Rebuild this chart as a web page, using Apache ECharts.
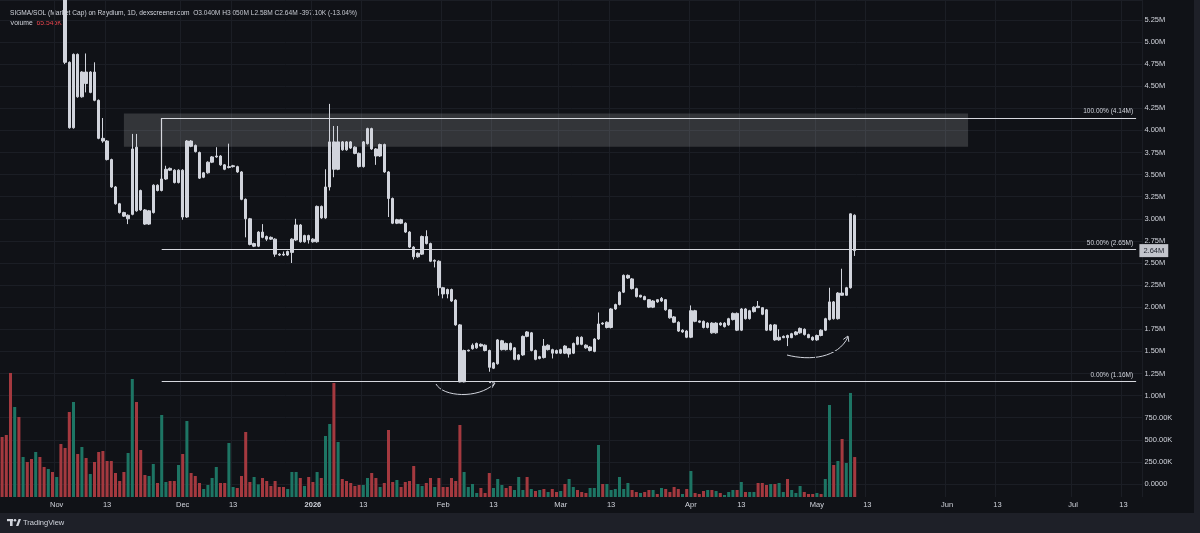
<!DOCTYPE html>
<html>
<head>
<meta charset="utf-8">
<script src="https://cdn.jsdelivr.net/npm/echarts@6/dist/echarts.min.js"></script>
<style>
html, body { margin: 0; padding: 0; background: #1e2028; }
#chart { width: 1200px; height: 533px; }
</style>
</head>
<body>
<div id="chart"></div>
<script>
// daily categories, Oct 19 2025 .. Jul 17 2026
var startDay = Date.UTC(2025, 9, 19);
var dayCount = 272;
var dates = [];
for (var k = 0; k < dayCount; k++) {
    dates.push(new Date(startDay + k * 86400000).toISOString().slice(0, 10));
}
var monthNames = ['Jan','Feb','Mar','Apr','May','Jun','Jul','Aug','Sep','Oct','Nov','Dec'];

// prices in millions (market cap), one per day from Oct 19
var opens = [
7.20,6.90,6.60,6.00,6.50,6.10,6.30,6.10,5.90,6.20,6.00,5.80,6.00,5.80,5.90,
5.60,4.77,4.03,4.86,4.38,4.66,4.43,4.66,4.34,3.91,3.88,3.67,3.36,3.17,3.07,
3.00,3.05,3.81,3.32,3.10,2.94,3.07,3.38,3.32,3.45,3.57,3.55,3.41,3.55,3.02,
3.88,3.83,3.75,3.47,3.52,3.64,3.70,3.71,3.61,3.58,3.59,3.59,3.53,3.22,3.00,
2.69,2.69,2.85,2.80,2.79,2.77,2.60,2.60,2.59,2.62,2.76,2.93,2.74,2.81,2.77,
2.74,3.14,3.01,3.36,3.87,3.56,3.87,3.87,3.87,3.81,3.74,3.59,3.85,4.02,3.79,
3.71,3.84,3.53,3.23,2.95,2.99,2.95,2.85,2.68,2.57,2.60,2.80,2.72,2.52,2.52,
2.22,2.20,2.20,2.08,1.80,1.155,1.505,1.53,1.54,1.58,1.57,1.51,1.31,1.36,1.52,
1.59,1.59,1.41,1.41,1.46,1.72,1.51,1.51,1.42,1.56,1.52,1.52,1.51,1.48,1.56,
1.47,1.48,1.66,1.66,1.57,1.51,1.50,1.64,1.82,1.77,1.77,1.98,2.03,2.17,2.33,
2.32,2.21,2.115,2.12,2.085,2.00,2.085,2.07,2.085,1.97,1.89,1.83,1.72,1.73,1.66,
1.96,1.845,1.84,1.77,1.82,1.71,1.82,1.78,1.80,1.86,1.93,1.74,1.98,1.87,1.95,
2.01,1.995,1.97,1.74,1.80,1.63,1.655,1.68,1.655,1.69,1.71,1.75,1.69,1.66,1.63,
1.74,1.74,1.86,2.06,1.87,2.16,2.135,2.22,3.04
];
var closes = [
6.90,6.60,6.00,6.50,6.10,6.30,6.10,5.90,6.20,6.00,5.80,6.00,5.80,5.90,5.60,
4.77,4.03,4.86,4.38,4.66,4.53,4.66,4.34,3.91,3.88,3.67,3.36,3.17,3.07,3.03,
3.04,3.79,3.09,3.10,2.94,3.09,3.38,3.32,3.45,3.56,3.55,3.41,3.55,3.02,3.88,
3.82,3.76,3.46,3.52,3.64,3.70,3.71,3.61,3.56,3.59,3.60,3.53,3.22,3.00,2.71,
2.72,2.85,2.79,2.77,2.77,2.60,2.59,2.59,2.63,2.77,2.93,2.74,2.81,2.76,2.74,
3.14,3.01,3.36,3.87,3.56,3.87,3.78,3.78,3.80,3.74,3.59,3.87,4.02,3.79,3.71,
3.84,3.53,3.23,2.95,2.99,2.95,2.85,2.68,2.57,2.61,2.80,2.72,2.52,2.53,2.22,
2.15,2.15,2.07,1.80,1.155,1.51,1.513,1.57,1.59,1.56,1.51,1.32,1.37,1.63,1.62,
1.52,1.52,1.54,1.46,1.67,1.67,1.71,1.41,1.44,1.43,1.57,1.48,1.48,1.52,1.48,
1.53,1.59,1.58,1.58,1.54,1.55,1.64,1.81,1.81,1.83,1.98,2.03,2.17,2.36,2.36,
2.21,2.12,2.135,2.085,2.00,2.07,2.06,2.10,1.97,1.88,1.83,1.73,1.74,1.66,1.96,
1.84,1.83,1.77,1.82,1.71,1.82,1.80,1.82,1.87,1.93,1.74,1.98,1.87,1.96,2.00,
1.995,1.92,1.74,1.80,1.63,1.66,1.67,1.655,1.70,1.72,1.76,1.69,1.655,1.63,1.68,
1.68,1.87,2.06,1.87,2.16,2.135,2.22,3.056,2.64
];
var lows = [
6.80,6.50,5.95,5.90,6.00,6.00,6.00,5.85,5.85,5.95,5.75,5.75,5.75,5.60,5.55,
4.75,4.02,4.02,4.37,4.37,4.43,4.42,4.33,3.90,3.86,3.66,3.35,3.16,3.06,3.02,
2.94,3.04,3.08,3.09,2.93,2.93,3.06,3.31,3.31,3.44,3.54,3.40,3.40,2.99,3.01,
3.81,3.75,3.45,3.46,3.51,3.63,3.69,3.60,3.55,3.57,3.58,3.52,3.21,2.79,2.70,
2.68,2.68,2.78,2.75,2.76,2.57,2.58,2.58,2.58,2.50,2.75,2.73,2.73,2.72,2.73,
2.73,3.00,3.00,3.32,3.47,3.55,3.77,3.77,3.79,3.73,3.58,3.58,3.84,3.78,3.61,
3.70,3.52,3.02,2.94,2.94,2.94,2.84,2.67,2.54,2.56,2.59,2.71,2.51,2.45,2.13,
2.10,2.10,2.06,1.79,1.15,1.15,1.50,1.52,1.53,1.55,1.50,1.27,1.30,1.35,1.51,
1.51,1.51,1.40,1.40,1.45,1.66,1.50,1.40,1.41,1.42,1.51,1.42,1.47,1.47,1.47,
1.43,1.47,1.57,1.57,1.53,1.50,1.49,1.63,1.80,1.76,1.76,1.97,2.02,2.16,2.32,
2.20,2.11,2.11,2.08,1.99,1.99,2.05,2.06,1.96,1.87,1.82,1.72,1.71,1.65,1.65,
1.83,1.82,1.76,1.76,1.70,1.70,1.79,1.77,1.79,1.85,1.73,1.73,1.86,1.86,1.94,
1.99,1.91,1.73,1.73,1.62,1.62,1.65,1.56,1.65,1.68,1.70,1.68,1.65,1.62,1.62,
1.67,1.73,1.85,1.86,1.86,2.13,2.13,2.21,2.58
];
var highs = [
7.50,7.00,6.70,6.60,6.60,6.40,6.35,6.20,6.25,6.25,6.05,6.05,6.05,5.95,5.95,
5.70,4.78,4.87,4.87,4.67,4.87,4.67,4.77,4.35,4.14,3.89,3.68,3.37,3.18,3.08,
3.05,3.96,3.96,3.33,3.11,3.10,3.39,3.39,3.46,3.60,3.58,3.56,3.56,3.56,3.89,
3.89,3.84,3.76,3.53,3.65,3.71,3.81,3.72,3.62,3.85,3.61,3.60,3.54,3.23,3.01,
2.73,2.86,2.94,2.81,2.80,2.78,2.61,2.63,2.64,2.78,3.00,2.94,2.82,2.82,2.78,
3.15,3.15,3.56,4.30,4.05,4.05,3.88,3.88,3.88,3.82,3.75,3.88,4.03,4.03,3.80,
3.85,3.85,3.54,3.24,3.00,3.00,2.96,2.86,2.69,2.62,2.81,2.87,2.73,2.54,2.53,
2.23,2.21,2.21,2.09,1.81,1.52,1.52,1.59,1.60,1.59,1.58,1.52,1.38,1.64,1.63,
1.60,1.60,1.55,1.47,1.68,1.73,1.72,1.52,1.45,1.64,1.58,1.53,1.52,1.53,1.57,
1.54,1.60,1.67,1.67,1.58,1.56,1.65,1.94,1.83,1.84,1.99,2.04,2.18,2.37,2.37,
2.33,2.22,2.14,2.13,2.09,2.08,2.09,2.115,2.09,1.98,1.90,1.84,1.75,1.74,2.02,
1.97,1.85,1.85,1.83,1.83,1.83,1.83,1.83,1.88,1.94,1.94,1.99,1.99,1.97,2.01,
2.07,2.00,1.98,1.81,1.81,1.75,1.68,1.69,1.71,1.73,1.77,1.76,1.70,1.67,1.69,
1.75,1.88,2.22,2.07,2.17,2.435,2.23,3.06,3.05
];
// volume in thousands
var volumes = [
98.4,101.7,203.4,147.6,131.2,65.6,57.4,62.3,73.8,65.6,49.2,45.9,41.0,32.8,86.9,
80.4,139.4,155.8,70.5,82.0,64.0,37.7,57.4,73.8,75.4,59.0,59.0,39.4,26.2,41.0,
72.2,193.5,155.8,77.1,36.1,34.4,54.1,23.0,134.5,24.6,26.2,26.2,52.5,70.5,124.6,
39.4,34.4,23.0,13.1,19.7,31.2,49.2,23.0,23.0,88.6,16.4,14.8,34.4,106.6,24.6,
32.8,20.8,31.2,26.2,18.0,26.2,16.4,16.4,13.1,41.0,41.0,31.2,18.0,32.8,24.6,
41.0,31.2,100.0,119.7,187.0,90.2,29.5,26.2,23.0,18.0,19.7,19.7,31.2,39.4,31.2,
16.4,23.0,109.9,24.6,27.9,16.4,24.6,26.2,50.8,21.3,18.0,23.0,31.2,16.4,31.2,
16.4,16.4,31.2,26.2,118.1,41.0,16.4,21.3,6.6,14.8,6.6,39.4,14.8,29.5,19.7,
14.8,18.0,11.5,32.8,11.5,32.8,13.1,9.8,11.5,13.1,8.2,13.1,8.2,9.8,21.3,
29.5,16.4,11.5,8.2,6.6,14.8,14.8,85.3,21.3,21.3,11.5,13.1,32.8,13.1,23.0,
11.5,8.2,6.6,8.2,11.5,11.5,4.9,14.8,13.1,8.2,16.4,13.1,4.9,13.1,42.6,
6.6,4.9,9.8,11.5,11.5,9.8,6.6,3.3,8.2,11.5,11.5,24.6,8.2,8.2,8.2,
23.0,23.0,19.7,21.3,21.3,23.0,8.2,29.5,11.5,6.6,18.0,8.2,4.9,4.9,6.6,
4.9,29.5,150.9,52.5,59.0,95.1,55.8,170.6,65.545
];
// fib levels and drawn zone (millions)
var fibLevels = [4.14, 2.65, 1.16];
var fibNames = ['100.00% (4.14M)', '50.00% (2.65M)', '0.00% (1.16M)'];
var zoneTop = 4.19, zoneBottom = 3.815;
var lastPrice = 2.64;

var upVol = '#1d7564', downVol = '#a4393f';
var candleCol = '#d1d4dc';
var textCol = '#d1d4dc';

var candles = opens.map(function (o, i) {
    var c = closes[i];
    return [o, c, Math.min(lows[i], o, c), Math.max(highs[i], o, c)];
});
var volData = volumes.map(function (v, i) {
    return { value: v, itemStyle: { color: closes[i] >= opens[i] ? upVol : downVol } };
});

function isTickDay(idx, val) {
    var d = +val.slice(8, 10);
    return d === 1 || d === 13;
}
function dateLabel(val) {
    var m = +val.slice(5, 7), d = +val.slice(8, 10);
    if (d === 13) return '13';
    if (m === 1) return '{y|' + val.slice(0, 4) + '}';
    return monthNames[m - 1];
}
function priceLabel(v) {
    if (v === 0) return '0.0000';
    if (v < 1) return (v * 1000).toFixed(2) + 'K';
    return v.toFixed(2) + 'M';
}

var fibLines = fibLevels.map(function (lv, i) {
    return [
        { coord: [dates[38], lv], label: { show: true, position: 'insideEndTop', formatter: fibNames[i], color: textCol, fontSize: 6.5, distance: 3 } },
        { coord: [dates[270], lv] }
    ];
});
fibLines.push([{ coord: [dates[38], fibLevels[0]], label: { show: false } }, { coord: [dates[38], 3.45] }]);

var myChart = echarts.init(document.getElementById('chart'));
var option = {
    backgroundColor: '#101217',
    animation: false,
    textStyle: { fontFamily: 'Liberation Sans' },
    grid: [
        { left: 0, right: 57.6, top: 0, bottom: 49 },
        { left: 0, right: 57.6, top: 0, bottom: 36 }
    ],
    xAxis: [
        { type: 'category', gridIndex: 0, data: dates, show: false },
        {
            type: 'category', gridIndex: 1, data: dates,
            axisLine: { show: false }, axisTick: { show: false },
            axisLabel: {
                interval: isTickDay, formatter: dateLabel, color: textCol, fontSize: 7.5, margin: 4,
                rich: { y: { fontWeight: 'bold', fontSize: 7.5, color: textCol } }
            },
            splitLine: { show: true, interval: isTickDay, lineStyle: { color: '#1b1e25', width: 1 } }
        }
    ],
    yAxis: [
        {
            type: 'value', gridIndex: 0, position: 'right', min: 0, max: 5.475, interval: 0.25,
            axisLine: { show: false }, axisTick: { show: false },
            axisLabel: { formatter: priceLabel, color: textCol, fontSize: 7.5, margin: 2, showMaxLabel: false },
            splitLine: { lineStyle: { color: '#1b1e25', width: 1 } }
        },
        { type: 'value', gridIndex: 1, min: 0, max: 815, show: false }
    ],
    series: [
        {
            type: 'bar', xAxisIndex: 1, yAxisIndex: 1, data: volData,
            barWidth: '72%', z: 1
        },
        {
            type: 'candlestick', xAxisIndex: 0, yAxisIndex: 0, data: candles,
            barWidth: '70%', clip: true, z: 3,
            itemStyle: { color: candleCol, color0: candleCol, borderColor: candleCol, borderColor0: candleCol, borderWidth: 1 },
            markArea: {
                silent: true,
                itemStyle: { color: 'rgba(255,255,255,0.15)' },
                data: [[{ coord: [dates[29], zoneTop] }, { coord: [dates[230], zoneBottom] }]]
            },
            markLine: {
                silent: true, symbol: ['none', 'none'],
                lineStyle: { color: '#d6d8de', width: 1.2, type: 'solid' },
                label: { show: false },
                data: fibLines
            }
        },
        {
            // last price tag on the axis
            type: 'line', xAxisIndex: 0, yAxisIndex: 0, data: [],
            markLine: {
                silent: true, symbol: ['none', 'none'],
                lineStyle: { color: 'rgba(0,0,0,0)', width: 0 },
                data: [{
                    yAxis: lastPrice,
                    label: { show: true, position: 'end', distance: -3, formatter: '2.64M', color: '#1e222d', backgroundColor: '#c3c5cc', padding: [3, 4, 2, 4], fontSize: 7.5, fontFamily: 'Liberation Sans' }
                }]
            }
        }
    ],
    graphic: [
        { type: 'rect', shape: { x: 0, y: 513, width: 1200, height: 20 }, style: { fill: '#1e2028' } },
        { type: 'rect', shape: { x: 1194, y: 0, width: 6, height: 533 }, style: { fill: '#1e2028' } },
        {
            type: 'text', left: 10, top: 10,
            style: {
                text: 'SIGMA/SOL (Market Cap) on Raydium, 1D, dexscreener.com  O{v|3.040M} H{v|3.050M} L{v|2.58M} C{v|2.64M} {v|-397.10K (-13.04%)}',
                fill: textCol, fontSize: 6.6, fontFamily: 'Liberation Sans',
                rich: { v: { fill: '#c4c7cf', fontSize: 6.6, fontFamily: 'Liberation Sans' } }
            }
        },
        {
            type: 'text', left: 10, top: 20,
            style: {
                text: 'Volume  {r|65.545K}', fill: textCol, fontSize: 6.8, fontFamily: 'Liberation Sans',
                rich: { r: { fill: '#e0444c', fontSize: 6.8, fontFamily: 'Liberation Sans' } }
            }
        },
        // hand drawn arrows
        { type: 'bezierCurve', shape: { x1: 436, y1: 384, cpx1: 443, cpy1: 397, cpx2: 478, cpy2: 399, x2: 494, y2: 384 }, style: { stroke: textCol, lineWidth: 1, fill: null } },
        { type: 'polyline', shape: { points: [[489.2, 382.5], [495, 383], [491.9, 387.9]] }, style: { stroke: textCol, lineWidth: 1, fill: null } },
        { type: 'bezierCurve', shape: { x1: 787, y1: 355, cpx1: 810, cpy1: 361, cpx2: 838, cpy2: 358, x2: 848, y2: 337 }, style: { stroke: textCol, lineWidth: 1, fill: null } },
        { type: 'polyline', shape: { points: [[843.3, 339.4], [848, 336], [848.8, 341.8]] }, style: { stroke: textCol, lineWidth: 1, fill: null } },
        // TradingView logo
        { type: 'rect', shape: { x: 7, y: 519, width: 6, height: 2.2 }, style: { fill: textCol } },
        { type: 'rect', shape: { x: 10, y: 519, width: 2.6, height: 7 }, style: { fill: textCol } },
        { type: 'circle', shape: { cx: 15, cy: 520.2, r: 1.3 }, style: { fill: textCol } },
        { type: 'polygon', shape: { points: [[16, 526], [18.6, 519], [21, 519], [18.4, 526]] }, style: { fill: textCol } },
        { type: 'text', left: 23, top: 518.5, style: { text: 'TradingView', fill: textCol, fontSize: 7.5, fontFamily: 'Liberation Sans' } }
    ]
};
myChart.setOption(option);
</script>
</body>
</html>
